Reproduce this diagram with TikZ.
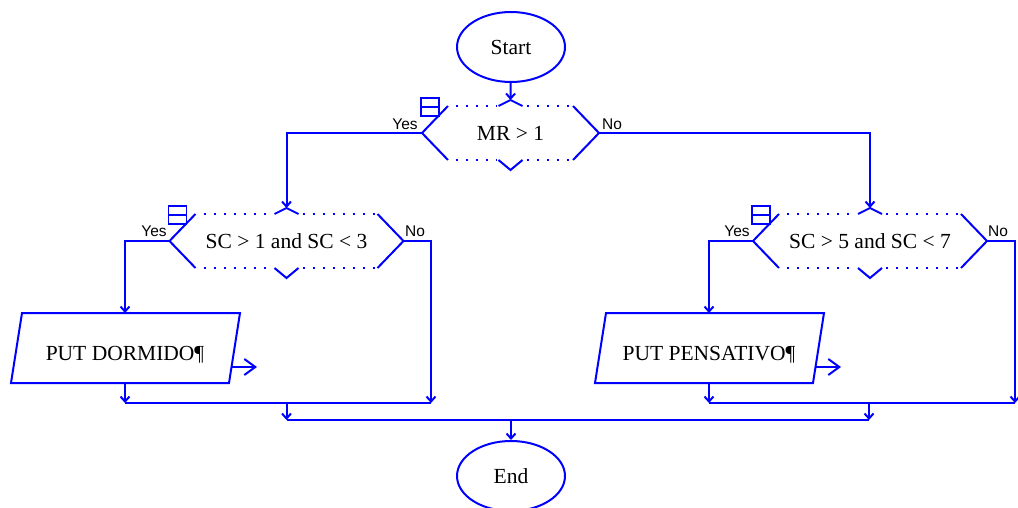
\documentclass[tikz,border=0pt]{standalone}
\usepackage{fontspec}
\setmainfont{Liberation Serif}
\newfontfamily\lblfont{Liberation Sans}
\usetikzlibrary{arrows.meta,shapes.geometric}
\newcommand\Dec[5]{%
  \node[txt] (#1) at (#2,#3) {#5};
  \coordinate (#1-L) at (#2-#4,#3);
  \coordinate (#1-R) at (#2+#4,#3);
  \coordinate (#1-T) at (#2,#3-33);
  \draw[fc] (#2-#4+26,#3-27) -- (#1-L) -- (#2-#4+26,#3+27);
  \draw[fc] (#2+#4-26,#3-27) -- (#1-R) -- (#2+#4-26,#3+27);
  \draw[fc] (#2-12,#3-27) -- (#1-T) -- (#2+12,#3-27);
  \draw[fc] (#2-12,#3+27) -- (#2,#3+37) -- (#2+12,#3+27);
  \draw[dots] (#2-#4+34,#3-27) -- (#2-14,#3-27);
  \draw[dots] (#2+16,#3-27) -- (#2+#4-26,#3-27);
  \draw[dots] (#2-#4+34,#3+27) -- (#2-14,#3+27);
  \draw[dots] (#2+16,#3+27) -- (#2+#4-26,#3+27);
  \draw[fc,line width=1.6pt] (#2-#4-1,#3-35) rectangle ++(18,18);
  \draw[fc,line width=1.6pt] (#2-#4-1,#3-26) -- ++(18,0);
}
\begin{document}
\begin{tikzpicture}[x=1pt,y=-1pt,
  fc/.style={draw=blue, line width=2pt},
  arr/.style={fc,-{Straight Barb[length=5pt,width=9pt]}},
  bigarr/.style={fc,-{Straight Barb[length=11pt,width=16pt]}},
  term/.style={fc, ellipse, minimum width=108pt, minimum height=70pt, inner sep=0pt, font=\fontsize{21.5}{25}\selectfont},
  txt/.style={font=\fontsize{21.5}{25}\selectfont, inner sep=0pt},
  lbl/.style={font=\lblfont\fontsize{15.5}{18}\selectfont, inner sep=0pt},
  dots/.style={draw=blue, line width=2pt, dash pattern=on 2pt off 8pt},
]
\useasboundingbox (0,0) rectangle (1018,508);

\node[term] (start) at (511,47) {Start};
\Dec{d1}{510.5}{133}{88.5}{MR > 1}
\Dec{d2}{286.5}{241}{117}{SC > 1 and SC < 3}
\Dec{d3}{870}{241}{117}{SC > 5 and SC < 7}

\node[lbl] (y1) at (405,124) {Yes};
\node[lbl] (n1) at (612,124) {No};
\node[lbl] (y2) at (154,231) {Yes};
\node[lbl] (n2) at (415,231) {No};
\node[lbl] (y3) at (737,231) {Yes};
\node[lbl] (n3) at (998,231) {No};

% parallelograms
\draw[fc] (22,313) -- (240,313) -- (229,383) -- (11,383) -- cycle;
\node[txt] (p1) at (125,355) {PUT DORMIDO¶};
\coordinate (p1-t) at (125,313);
\coordinate (p1-b) at (125,383);
\coordinate (p1-o1) at (232,367);
\coordinate (p1-o2) at (257,367);
\draw[fc] (606,313) -- (824,313) -- (813,383) -- (595,383) -- cycle;
\node[txt] (p2) at (709,355) {PUT PENSATIVO¶};
\coordinate (p2-t) at (709,313);
\coordinate (p2-b) at (709,383);
\coordinate (p2-o1) at (816,367);
\coordinate (p2-o2) at (841,367);
\draw[bigarr] (p1-o1) -- (p1-o2);
\draw[bigarr] (p2-o1) -- (p2-o2);

% merge points
\coordinate (m1-L) at (125,403);
\coordinate (m1-R) at (431,403);
\coordinate (m1-C) at (286.5,403);
\coordinate (m3-L) at (709,403);
\coordinate (m3-R) at (1015,403);
\coordinate (m3-C) at (869,403);
\coordinate (m2-L) at (286.5,420);
\coordinate (m2-R) at (869,420);
\coordinate (m2-C) at (511,420);

\node[term] (end) at (511,476) {End};

% connectors
\draw[arr] (start) -- (d1-T);
\draw[arr] (d1-L) -| (d2-T);
\draw[arr] (d1-R) -| (d3-T);
\draw[arr] (d2-L) -| (p1-t);
\draw[arr] (d2-R) -| (m1-R);
\draw[arr] (d3-L) -| (p2-t);
\draw[arr] (d3-R) -| (m3-R);
\draw[arr] (p1-b) -- (m1-L);
\draw[arr] (p2-b) -- (m3-L);
\draw[fc] (m1-L) -- (m1-R);
\draw[fc] (m3-L) -- (m3-R);
\draw[arr] (m1-C) -- (m2-L);
\draw[arr] (m3-C) -- (m2-R);
\draw[fc] (m2-L) -- (m2-R);
\draw[arr] (m2-C) -- (end);
\end{tikzpicture}
\end{document}
